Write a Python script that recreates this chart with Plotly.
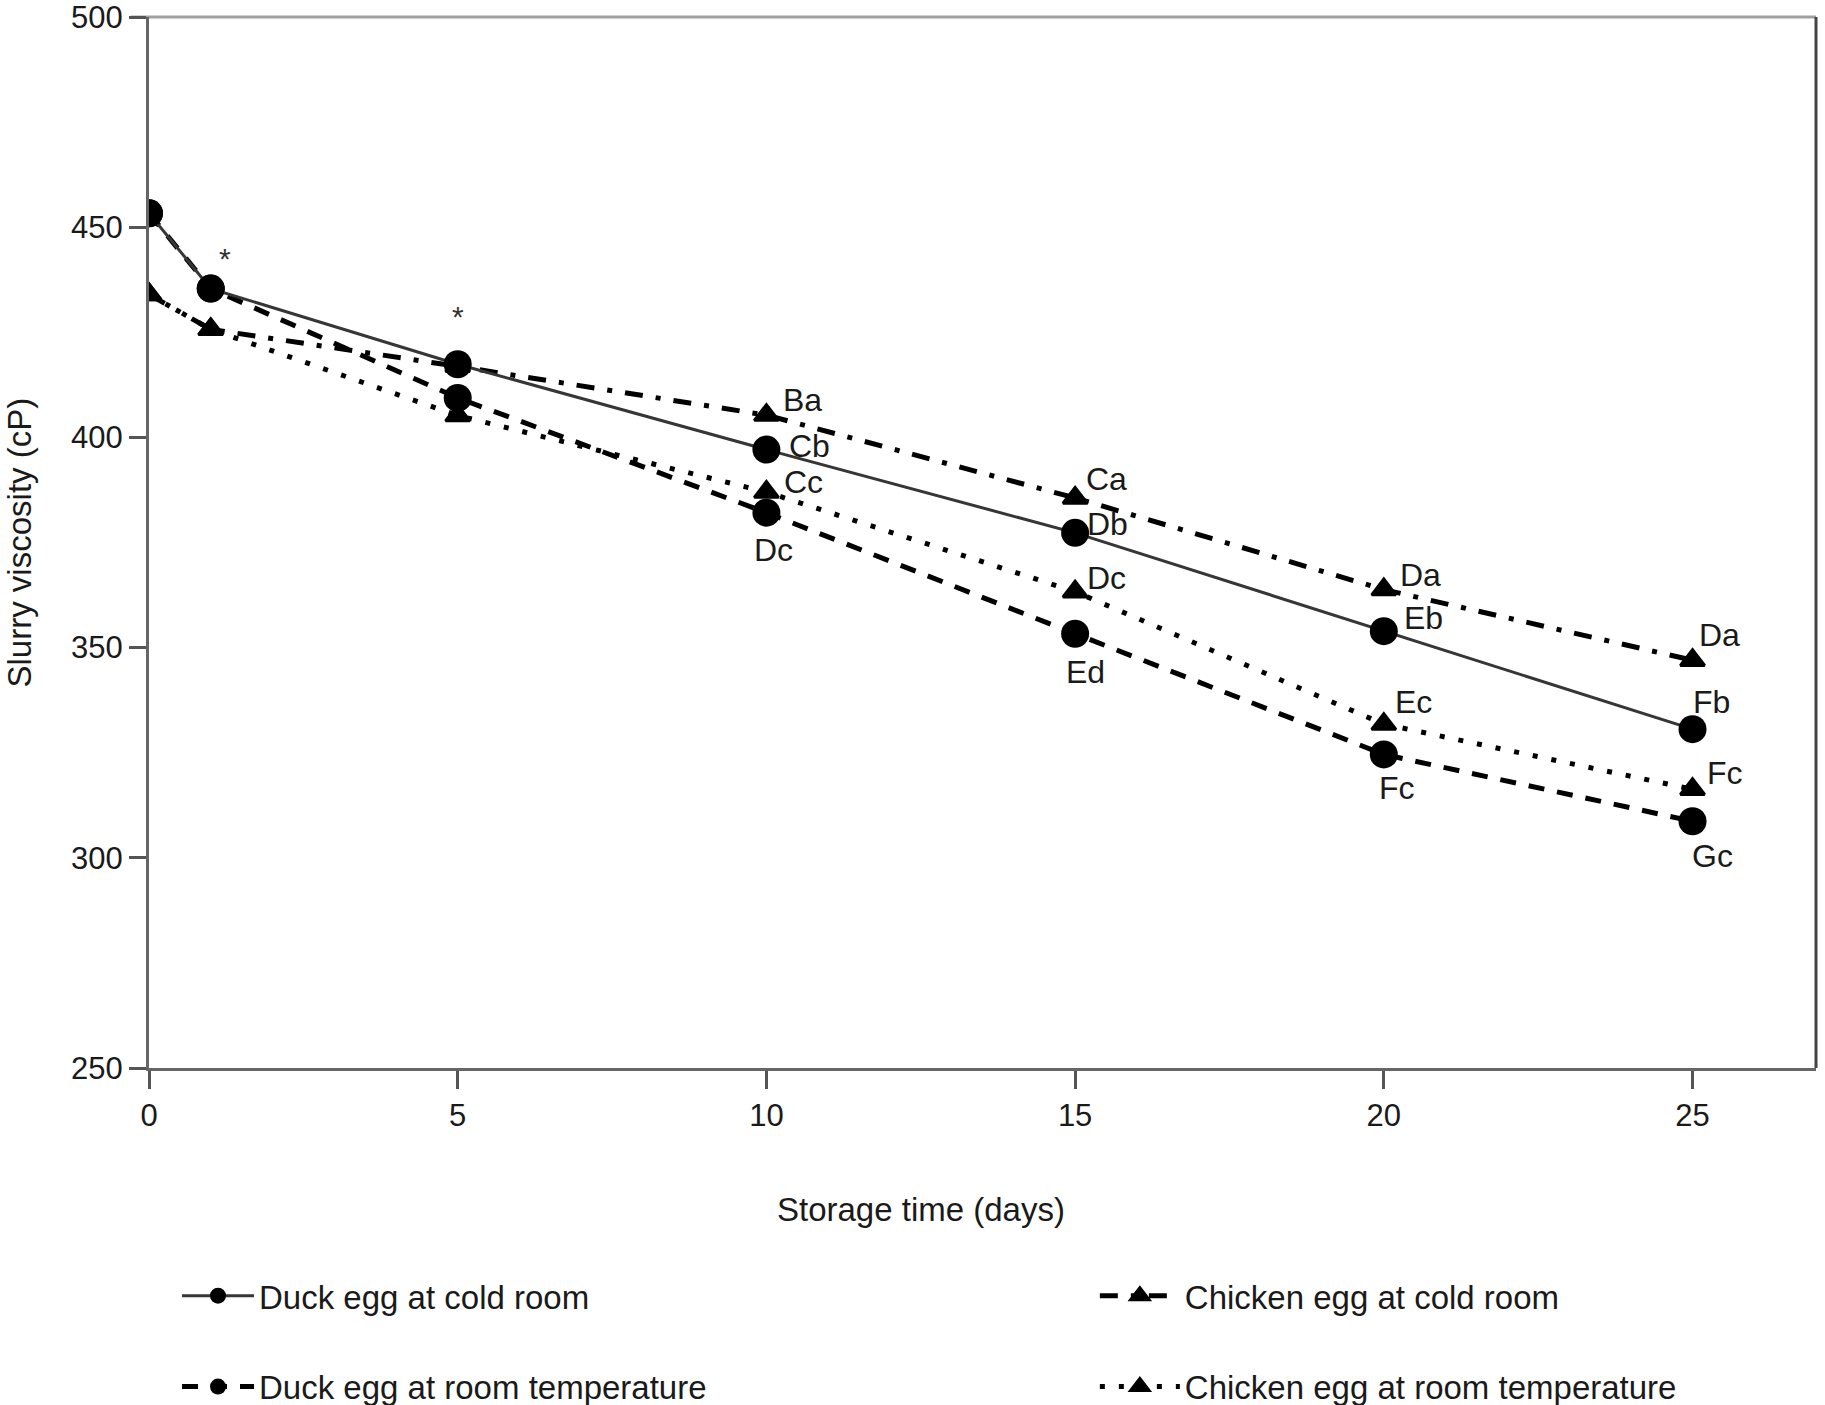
import plotly.graph_objects as go

# ---------------- data ----------------
days = [0, 1, 5, 10, 15, 20, 25]
duck_cold = [453.3, 435.4, 417.4, 397.1, 377.3, 353.9, 330.6]
duck_room = [453.3, 435.4, 409.4, 382.1, 353.3, 324.6, 308.7]
chicken_cold = [434.0, 425.7, 416.9, 405.3, 385.6, 363.8, 347.0]
chicken_room = [434.0, 425.7, 405.2, 387.0, 363.3, 331.8, 316.3]

duck_cold_labels = ["", "", "", "Cb", "Db", "Eb", "Fb"]
duck_room_labels = ["", "", "", "Dc", "Ed", "Fc", "Gc"]
chicken_cold_labels = ["", "", "", "Ba", "Ca", "Da", "Da"]
chicken_room_labels = ["", "", "", "Cc", "Dc", "Ec", "Fc"]
asterisk_days = [1, 5]

x_ticks = [0, 5, 10, 15, 20, 25]
y_ticks = [250, 300, 350, 400, 450, 500]

# ---------------- styles / label offsets (px) ----------------
label_offsets = {
    "duck_cold": [None, None, None, (43, 4), (32, 9), (40, 13), (19, 27)],
    "duck_room": [None, None, None, (7, -37), (10, -38), (13, -34), (20, -35)],
    "chicken_cold": [None, None, None, (36, 15), (31, 19), (37, 15), (27, 25)],
    "chicken_room": [None, None, None, (37, 10), (31, 14), (30, 22), (32, 16)],
}
asterisk_offsets = [(14, 30), (0, 48)]

FONT = "Liberation Sans, Arial, sans-serif"
TXT = "#1a1a1a"

fig = go.Figure()

# chickens first so circles sit on top
fig.add_trace(go.Scatter(
    x=days, y=chicken_cold, mode="lines+markers", name="Chicken egg at cold room",
    line=dict(color="black", width=5, dash="18px,13px,5px,13px"),
    marker=dict(symbol="triangle-up", size=21, color="black", line=dict(color="black", width=3)),
    legend="legend2", legendgroup="cc", legendrank=1))
fig.add_trace(go.Scatter(
    x=days, y=chicken_room, mode="lines+markers", name="Chicken egg at room temperature",
    line=dict(color="black", width=5, dash="5px,14px"),
    marker=dict(symbol="triangle-up", size=21, color="black", line=dict(color="black", width=3)),
    legend="legend2", legendgroup="cr", legendrank=2))
fig.add_trace(go.Scatter(
    x=days, y=duck_room, mode="lines+markers", name="Duck egg at room temperature",
    line=dict(color="black", width=5, dash="16px,13px"),
    marker=dict(symbol="circle", size=28, color="black"),
    legend="legend", legendgroup="dr", legendrank=2))
fig.add_trace(go.Scatter(
    x=days, y=duck_cold, mode="lines+markers", name="Duck egg at cold room",
    line=dict(color="#363636", width=3),
    marker=dict(symbol="circle", size=28, color="black"),
    legend="legend", legendgroup="dc", legendrank=1))

# point letter labels
series = [
    ("duck_cold", duck_cold, duck_cold_labels),
    ("duck_room", duck_room, duck_room_labels),
    ("chicken_cold", chicken_cold, chicken_cold_labels),
    ("chicken_room", chicken_room, chicken_room_labels),
]
for key, vals, labs in series:
    for i, (xv, yv, t) in enumerate(zip(days, vals, labs)):
        if not t:
            continue
        dx, dy = label_offsets[key][i]
        fig.add_annotation(x=xv, y=yv, text=t, showarrow=False,
                           xanchor="center", yanchor="middle",
                           xshift=dx, yshift=dy,
                           font=dict(family=FONT, size=32, color=TXT))

for (xv, (dx, dy)) in zip(asterisk_days, asterisk_offsets):
    yv = duck_cold[days.index(xv)]
    fig.add_annotation(x=xv, y=yv, text="*", showarrow=False,
                       xanchor="center", yanchor="middle",
                       xshift=dx, yshift=dy,
                       font=dict(family=FONT, size=30, color="#333"))

# axis titles
fig.add_annotation(x=12.5, xref="x", y=-0.1343, yref="paper", text="Storage time (days)",
                   showarrow=False, xanchor="center", yanchor="middle",
                   font=dict(family=FONT, size=33, color=TXT))
fig.add_annotation(x=-0.0774, xref="paper", y=0.5, yref="paper", text="Slurry viscosity (cP)",
                   showarrow=False, xanchor="center", yanchor="middle", textangle=-90,
                   font=dict(family=FONT, size=33, color=TXT))

# top and right frame lines
fig.add_shape(type="line", xref="paper", yref="paper", x0=-0.011, x1=1, y0=1, y1=1,
              line=dict(color="#a0a0a0", width=3), layer="below")
fig.add_shape(type="line", xref="paper", yref="paper", x0=1, x1=1, y0=0, y1=1,
              line=dict(color="#444444", width=3), layer="below")

leg_common = dict(xref="paper", yref="paper", y=-0.19, xanchor="left", yanchor="top",
                  orientation="v", traceorder="grouped", tracegroupgap=45,
                  font=dict(family=FONT, size=33, color=TXT), bgcolor="rgba(0,0,0,0)")

fig.update_layout(
    width=1825, height=1405,
    margin=dict(l=149, r=9, t=17, b=337, autoexpand=False),
    paper_bgcolor="white", plot_bgcolor="white",
    font=dict(family=FONT, size=32, color=TXT),
    xaxis=dict(range=[0, 27], tickvals=x_ticks, ticktext=[str(v) for v in x_ticks],
               showgrid=False, zeroline=False, showline=True, linecolor="#666666", linewidth=3,
               ticks="outside", ticklen=18, tickwidth=3, tickcolor="#555",
               ticklabeloverflow="allow",
               tickfont=dict(family=FONT, size=31, color=TXT)),
    yaxis=dict(range=[250, 500], tickvals=y_ticks, ticktext=[str(v) for v in y_ticks],
               showgrid=False, zeroline=False, showline=True, linecolor="#666666", linewidth=3,
               ticks="outside", ticklen=17, tickwidth=3, tickcolor="#555",
               ticklabeloverflow="allow",
               tickfont=dict(family=FONT, size=31, color=TXT)),
    legend=dict(x=0.0168, itemwidth=72, **leg_common),
    legend2=dict(x=0.5674, itemwidth=80, **leg_common),
    showlegend=True,
)

fig.write_html("out.html", config={"displayModeBar": False},
               post_script="document.body.style.margin='0';document.body.style.overflow='hidden';")
